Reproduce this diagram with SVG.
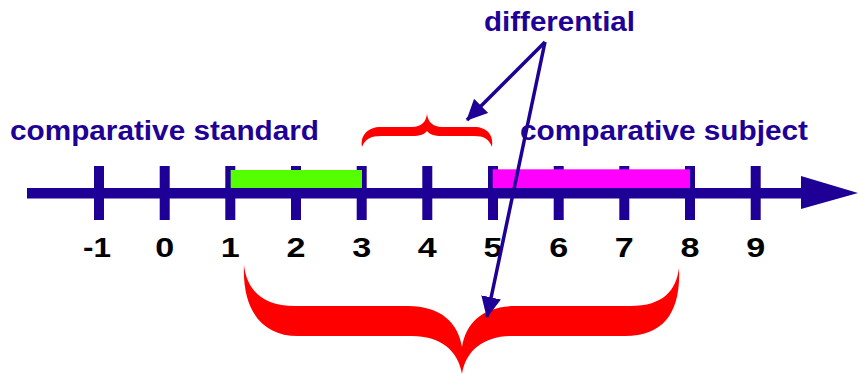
<svg xmlns="http://www.w3.org/2000/svg" width="859" height="374" viewBox="0 0 859 374">
  <style>
    .axis { fill: #1f0096; }
    .num { font-family: "Liberation Sans", Arial, sans-serif; font-weight: bold; font-size: 27px; fill: #000; text-anchor: middle; }
    .lbl { font-family: "Liberation Sans", Arial, sans-serif; font-weight: bold; font-size: 28px; fill: #1f0096; }
    .brace { fill: #ff0000; }
    .ptr { stroke: #1f0096; stroke-width: 3.5; fill: none; }
  </style>
  <defs>
    <marker id="head" markerUnits="userSpaceOnUse" markerWidth="24" markerHeight="22" refX="20" refY="10" orient="auto">
      <path d="M0,0 L21,10 L0,20 Z" fill="#1f0096"/>
    </marker>
  </defs>

  <!-- number line with ticks -->
  <g id="axis">
    <rect class="axis" x="27" y="188" width="776" height="10.5"/>
    <polygon class="axis" points="801,176 858,193 801,209"/>
    <rect class="axis" x="94" y="166" width="10" height="54"/>
    <rect class="axis" x="159.7" y="166" width="10" height="54"/>
    <rect class="axis" x="225.3" y="166" width="10" height="54"/>
    <rect class="axis" x="291" y="166" width="10" height="54"/>
    <rect class="axis" x="356.7" y="166" width="10" height="54"/>
    <rect class="axis" x="422.3" y="166" width="10" height="54"/>
    <rect class="axis" x="488" y="166" width="10" height="54"/>
    <rect class="axis" x="553.7" y="166" width="10" height="54"/>
    <rect class="axis" x="619.3" y="166" width="10" height="54"/>
    <rect class="axis" x="685" y="166" width="10" height="54"/>
    <rect class="axis" x="750.7" y="166" width="10" height="54"/>
  </g>

  <!-- tick labels -->
  <g id="numbers">
    <text class="num" x="97" y="257" textLength="28" lengthAdjust="spacingAndGlyphs">-1</text>
    <text class="num" x="164.7" y="257" textLength="19" lengthAdjust="spacingAndGlyphs">0</text>
    <text class="num" x="230.3" y="257" textLength="19" lengthAdjust="spacingAndGlyphs">1</text>
    <text class="num" x="296" y="257" textLength="19" lengthAdjust="spacingAndGlyphs">2</text>
    <text class="num" x="361.7" y="257" textLength="19" lengthAdjust="spacingAndGlyphs">3</text>
    <text class="num" x="427.3" y="257" textLength="19" lengthAdjust="spacingAndGlyphs">4</text>
    <text class="num" x="493" y="257" textLength="19" lengthAdjust="spacingAndGlyphs">5</text>
    <text class="num" x="558.7" y="257" textLength="19" lengthAdjust="spacingAndGlyphs">6</text>
    <text class="num" x="624.3" y="257" textLength="19" lengthAdjust="spacingAndGlyphs">7</text>
    <text class="num" x="690" y="257" textLength="19" lengthAdjust="spacingAndGlyphs">8</text>
    <text class="num" x="755.7" y="257" textLength="19" lengthAdjust="spacingAndGlyphs">9</text>
  </g>

  <!-- intervals -->
  <g id="standard">
    <rect x="230.7" y="170" width="131.3" height="18" fill="#55ff00"/>
    <text class="lbl" x="10" y="139.5" textLength="309" lengthAdjust="spacingAndGlyphs">comparative standard</text>
  </g>
  <g id="subject">
    <rect x="492.7" y="169.3" width="197.3" height="18.7" fill="#ff00ff"/>
    <text class="lbl" x="520" y="139.5" textLength="288" lengthAdjust="spacingAndGlyphs">comparative subject</text>
  </g>

  <!-- braces -->
  <g id="small-brace">
    <path class="brace" d="M362,147 C360,135 368,127 381,127 L412,127 C421,127 426,122 427,114 C428,122 433,127 442,127 L474,127 C487,127 494,135 492,147 C489,139 484,136 474,136 L442,136 C434,136 429,134 427,131 C425,134 420,136 412,136 L381,136 C371,136 365,139 362,147 Z"/>
  </g>
  <g id="big-brace">
    <path class="brace" d="M244,265 C247,290 262,306 295,306 L408,306 C440,306 458,322 462,347 C466,322 484,306 516,306 L630,306 C664,306 676,290 679,268 C681,312 664,336 625,336 L512,336 C484,336 466,350 462,374 C458,350 440,336 412,336 L298,336 C262,336 242,310 244,265 Z"/>
  </g>

  <g id="differential">
    <text class="lbl" x="484" y="31" textLength="151" lengthAdjust="spacingAndGlyphs">differential</text>
  </g>

  <!-- pointers from the label -->
  <g id="connectors">
    <line class="ptr" x1="545" y1="42" x2="467" y2="120" marker-end="url(#head)"/>
    <line class="ptr" x1="545" y1="42" x2="487" y2="317" marker-end="url(#head)"/>
  </g>
</svg>
